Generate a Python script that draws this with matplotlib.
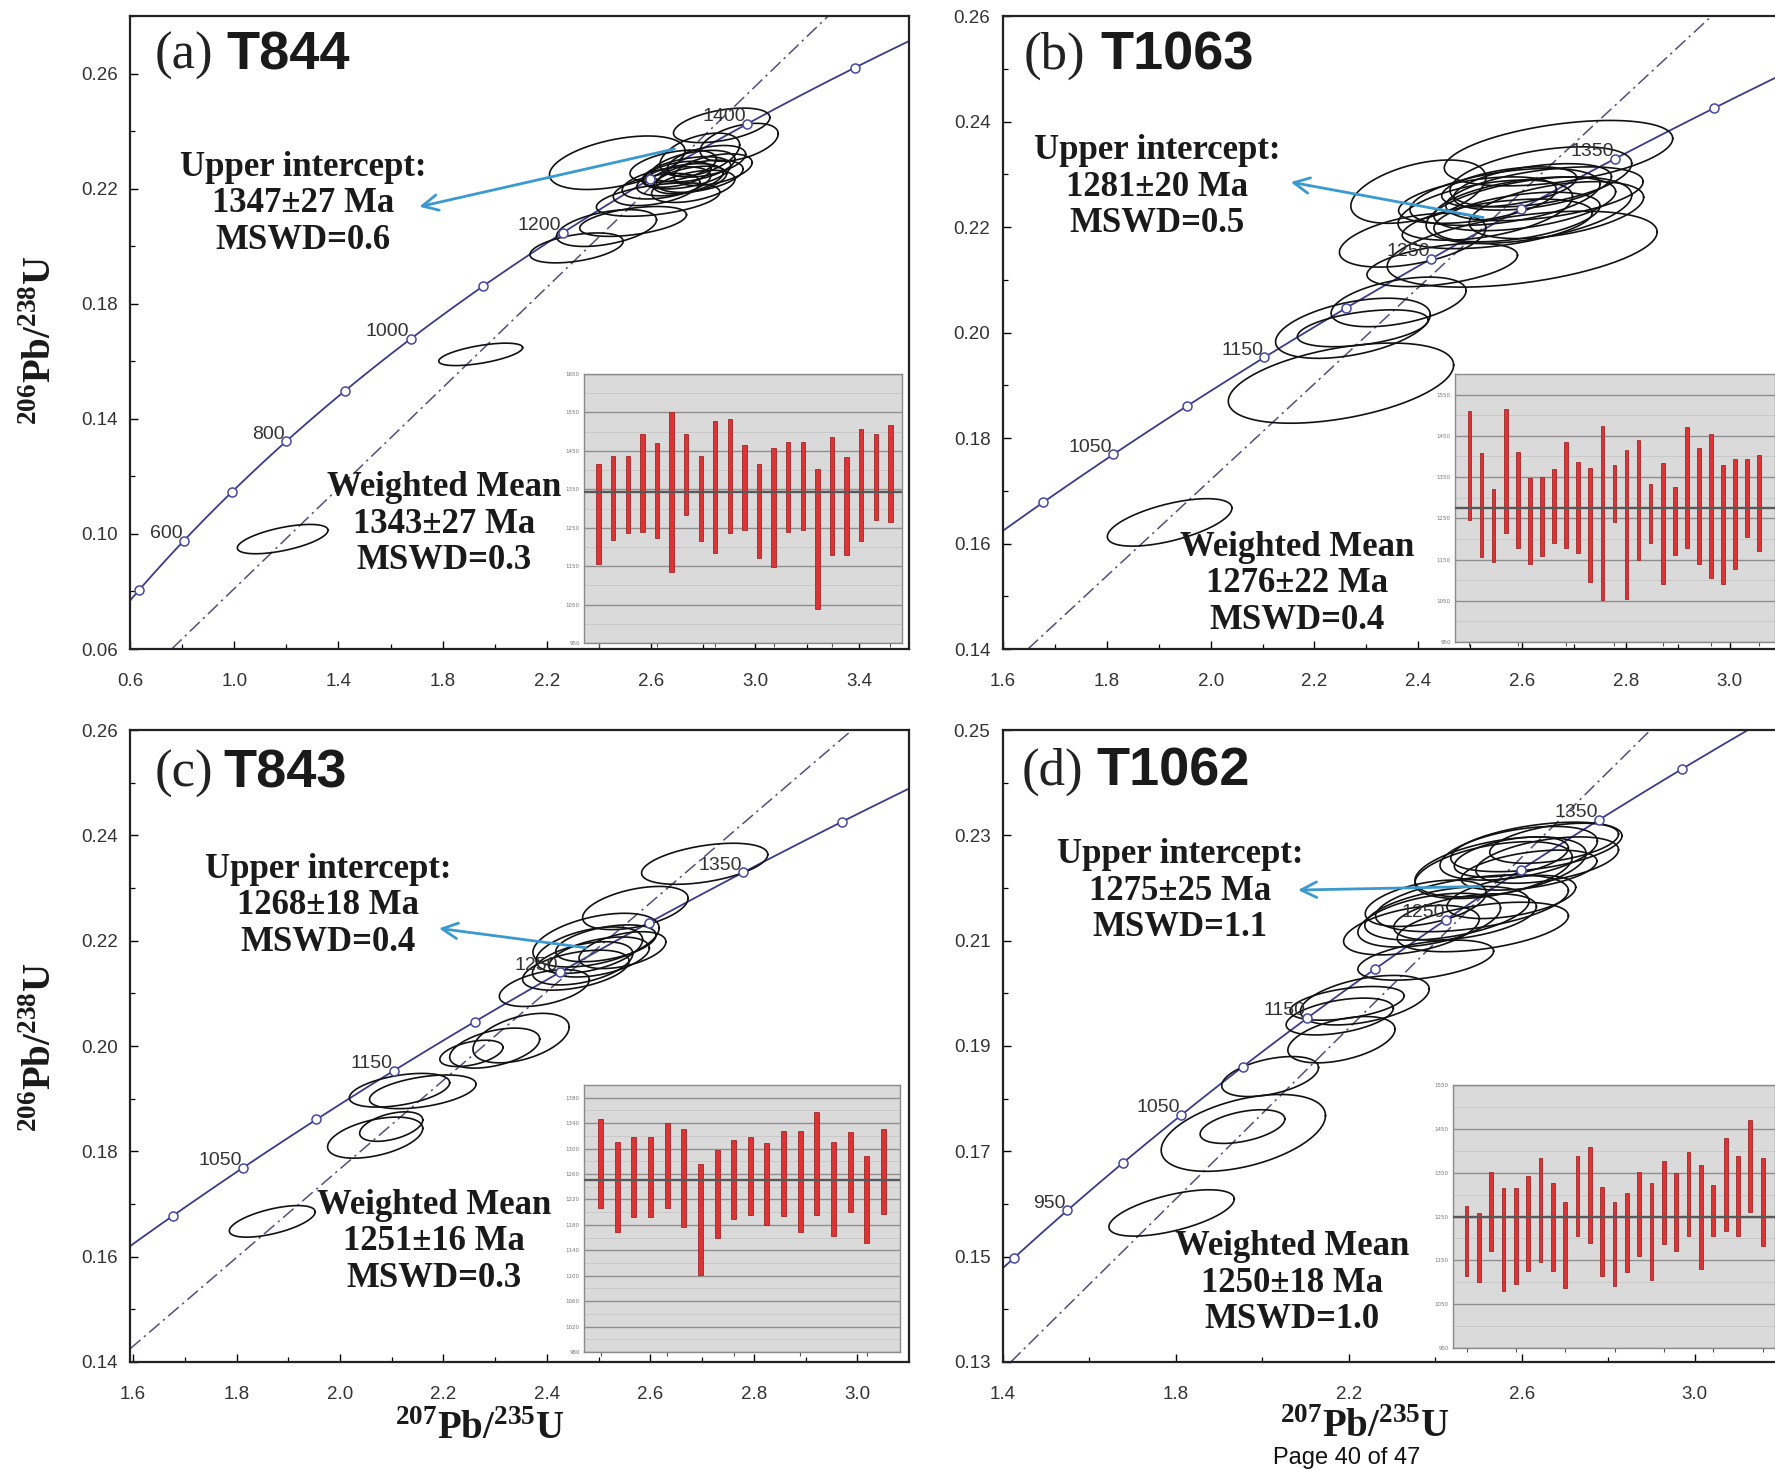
import numpy as np
import matplotlib.pyplot as plt
from matplotlib.ticker import FormatStrFormatter, FixedLocator

plt.rcParams['mathtext.fontset'] = 'custom'
plt.rcParams['mathtext.rm'] = 'Liberation Serif'
plt.rcParams['mathtext.bf'] = 'Liberation Serif:bold'

W, H = 1775, 1469
SERIF = 'Liberation Serif'
SANS = 'Liberation Sans'

# constantes de désintégration (par Ma)
L238 = 1.55125e-4
L235 = 9.8485e-4

# ---- panneau (a) T844 ----
marks_a = [500, 600, 700, 800, 900, 1000, 1100, 1200, 1300, 1400, 1500]
labels_a = [600, 800, 1000, 1200, 1400]
ell_x_a = [2.47, 2.871, 2.938, 2.787, 2.685, 2.736, 2.762, 2.787, 2.711, 2.813, 2.659, 2.762, 2.838, 2.621,
           2.627, 2.531, 2.429, 2.314, 2.70, 2.75, 1.946, 1.186]
ell_y_a = [0.229, 0.2420, 0.2361, 0.2318, 0.2278, 0.2255, 0.2278, 0.2243, 0.2231, 0.2295, 0.2220, 0.2208, 0.2266,
           0.2197, 0.2162, 0.2086, 0.2063, 0.1994, 0.2250, 0.2230, 0.1624, 0.0982]
ell_sx_a = [0.26, 0.185, 0.150, 0.153, 0.166, 0.17, 0.16, 0.166, 0.166, 0.15, 0.17, 0.16, 0.15, 0.166,
            0.237, 0.205, 0.192, 0.179, 0.13, 0.14, 0.161, 0.174]
ell_sy_a = [0.0093, 0.0060, 0.0066, 0.0075, 0.0056, 0.0056, 0.0055, 0.0056, 0.0056, 0.0055, 0.0056, 0.0056,
            0.0055, 0.0056, 0.0058, 0.0052, 0.0064, 0.0052, 0.0045, 0.0048, 0.0039, 0.0051]
wm_hi_a = [1416, 1436, 1436, 1494, 1471, 1550, 1494, 1436, 1528, 1532, 1466, 1416, 1457, 1473, 1473, 1403,
           1486, 1434, 1506, 1494, 1517]
wm_lo_a = [1156, 1218, 1236, 1240, 1222, 1136, 1282, 1215, 1185, 1236, 1244, 1171, 1148, 1238, 1244, 1038,
           1178, 1180, 1215, 1271, 1266]

# ---- panneau (b) T1063 ----
marks_b = [1000, 1050, 1100, 1150, 1200, 1250, 1300, 1350, 1400]
labels_b = [1050, 1150, 1250, 1350]
ell_x_b = [2.67, 2.60, 2.400, 2.389, 2.446, 2.362, 2.274, 2.293, 2.251, 2.567, 2.605, 2.529, 2.643, 2.590,
           2.620, 2.514, 2.666, 2.552, 2.636, 2.575, 2.613, 1.921]
ell_y_b = [0.234, 0.2158, 0.2267, 0.2175, 0.2128, 0.2058, 0.2008, 0.2008, 0.1904, 0.2257, 0.2244, 0.2232,
           0.2263, 0.2219, 0.2276, 0.2251, 0.2232, 0.2206, 0.2295, 0.2276, 0.2232, 0.1640]
ell_sx_b = [0.22, 0.26, 0.130, 0.141, 0.145, 0.130, 0.149, 0.126, 0.217, 0.183, 0.175, 0.168, 0.190, 0.160,
            0.152, 0.152, 0.168, 0.183, 0.175, 0.130, 0.198, 0.120]
ell_sy_b = [0.0062, 0.0072, 0.0060, 0.0051, 0.0041, 0.0047, 0.0057, 0.0035, 0.0076, 0.0054, 0.0051, 0.0057,
            0.0051, 0.0047, 0.0044, 0.0044, 0.0054, 0.0047, 0.0057, 0.0038, 0.0063, 0.0045]
wm_hi_b = [1510, 1409, 1321, 1516, 1410, 1348, 1349, 1370, 1435, 1386, 1372, 1475, 1380, 1415, 1439, 1333,
           1383, 1326, 1471, 1421, 1455, 1380, 1395, 1394, 1403]
wm_lo_b = [1246, 1157, 1144, 1215, 1177, 1140, 1158, 1191, 1177, 1166, 1096, 1051, 1242, 1055, 1148, 1191,
           1090, 1161, 1179, 1139, 1106, 1090, 1126, 1205, 1171]

# ---- panneau (c) T843 ----
marks_c = [1000, 1050, 1100, 1150, 1200, 1250, 1300, 1350, 1400]
labels_c = [1050, 1150, 1250, 1350]
ell_x_c = [2.705, 2.571, 2.482, 2.501, 2.469, 2.514, 2.456, 2.546, 2.495, 2.395, 2.350, 2.254, 2.299, 2.160,
           2.115, 2.099, 2.068, 1.869]
ell_y_c = [0.2346, 0.2262, 0.2182, 0.2169, 0.2157, 0.2195, 0.2144, 0.2182, 0.2201, 0.2110, 0.2015, 0.1986,
           0.1996, 0.1913, 0.1916, 0.1847, 0.1826, 0.1667]
ell_sx_c = [0.122, 0.102, 0.103, 0.097, 0.097, 0.097, 0.103, 0.084, 0.122, 0.087, 0.093, 0.061, 0.087, 0.103,
            0.097, 0.061, 0.092, 0.083]
ell_sy_c = [0.0039, 0.0041, 0.0044, 0.0038, 0.0041, 0.0035, 0.0038, 0.0035, 0.0051, 0.0035, 0.0047, 0.0025,
            0.0038, 0.0032, 0.0032, 0.0028, 0.0039, 0.0030]
wm_hi_c = [1347, 1310, 1318, 1318, 1340, 1331, 1275, 1297, 1314, 1318, 1309, 1327, 1327, 1357, 1311, 1326,
           1288, 1331]
wm_lo_c = [1207, 1168, 1193, 1193, 1206, 1176, 1101, 1159, 1189, 1196, 1179, 1194, 1168, 1196, 1162, 1200,
           1151, 1197]

# ---- panneau (d) T1062 ----
marks_d = [900, 950, 1000, 1050, 1100, 1150, 1200, 1250, 1300, 1350, 1400]
labels_d = [950, 1050, 1150, 1250, 1350]
ell_x_d = [2.634, 2.593, 2.659, 2.551, 2.617, 2.675, 2.576, 2.535, 2.485, 2.427, 2.386, 2.510, 2.576, 2.345,
           2.469, 2.378, 2.378, 2.237, 2.179, 2.196, 2.183, 2.018, 1.956, 1.954, 1.790]
ell_y_d = [0.2278, 0.2266, 0.2253, 0.2240, 0.2234, 0.2285, 0.2259, 0.2234, 0.2171, 0.2152, 0.2139, 0.2126,
           0.2183, 0.2120, 0.2145, 0.2171, 0.2063, 0.1987, 0.1956, 0.1981, 0.1912, 0.1842, 0.1735, 0.1747, 0.1583]
ell_sx_d = [0.198, 0.182, 0.165, 0.198, 0.157, 0.149, 0.132, 0.182, 0.223, 0.190, 0.165, 0.198, 0.149, 0.157,
            0.165, 0.140, 0.157, 0.149, 0.124, 0.132, 0.124, 0.112, 0.190, 0.098, 0.145]
ell_sy_d = [0.0047, 0.0051, 0.0044, 0.0057, 0.0038, 0.0038, 0.0038, 0.0054, 0.0054, 0.0051, 0.0051, 0.0047,
            0.0041, 0.0047, 0.0044, 0.0044, 0.0038, 0.0047, 0.0035, 0.0032, 0.0044, 0.0038, 0.0073, 0.0032, 0.0044]
wm_hi_d = [1273, 1258, 1352, 1314, 1314, 1342, 1383, 1327, 1284, 1388, 1408, 1317, 1284, 1303, 1352, 1326,
           1377, 1350, 1398, 1367, 1322, 1428, 1388, 1470, 1383]
wm_lo_d = [1114, 1100, 1171, 1080, 1095, 1125, 1146, 1125, 1087, 1205, 1189, 1115, 1091, 1123, 1159, 1106,
           1188, 1171, 1206, 1130, 1206, 1216, 1205, 1261, 1182]

upper_txt = ['Upper intercept:\n1347±27 Ma\nMSWD=0.6', 'Upper intercept:\n1281±20 Ma\nMSWD=0.5',
             'Upper intercept:\n1268±18 Ma\nMSWD=0.4', 'Upper intercept:\n1275±25 Ma\nMSWD=1.1']
wmean_txt = ['Weighted Mean\n1343±27 Ma\nMSWD=0.3', 'Weighted Mean\n1276±22 Ma\nMSWD=0.4',
             'Weighted Mean\n1251±16 Ma\nMSWD=0.3', 'Weighted Mean\n1250±18 Ma\nMSWD=1.0']
wm_mean = [1343, 1274, 1251, 1250]
letters = ['(a)', '(b)', '(c)', '(d)']
samples = ['T844', 'T1063', 'T843', 'T1062']

# droites discordia (deux points) et flèches (queue -> tête)
disc_a = [(0.76, 0.06), (3.28, 0.28)]
disc_b = [(1.648, 0.14), (2.965, 0.26)]
disc_c = [(1.60, 0.143), (2.99, 0.26)]
disc_d = [(1.418, 0.13), (2.898, 0.25)]
arrow_a = [(2.70, 0.234), (1.70, 0.2135)]
arrow_b = [(2.53, 0.2217), (2.149, 0.2286)]
arrow_c = [(2.48, 0.2186), (2.186, 0.2224)]
arrow_d = [(2.51, 0.2203), (2.076, 0.2196)]

fig = plt.figure(figsize=(W / 100, H / 100), dpi=100)


def px_axes(l, t, r, b):
    return fig.add_axes([l / W, 1 - b / H, (r - l) / W, (b - t) / H])


def ftext(x, y, s, **kw):
    fig.text(x / W, 1 - y / H, s, **kw)


def conc(t):
    t = np.asarray(t, dtype=float)
    return np.expm1(L235 * t), np.expm1(L238 * t)


def ellipse(ax, cx, cy, sx, sy, rho=0.45):
    t = np.linspace(0, 2 * np.pi, 150)
    x = cx + sx * np.cos(t)
    y = cy + sy * (rho * np.cos(t) + np.sqrt(1 - rho ** 2) * np.sin(t))
    ax.plot(x, y, color='#111111', lw=1.2, zorder=3)


def concordia_panel(rect, xlim, ylim, xticks, yticks, marks, labels, ex, ey, esx, esy,
                    disc, arrow, cut_right=False):
    ax = px_axes(*rect)
    ax.set_xlim(xlim)
    ax.set_ylim(ylim)
    tt = np.linspace(marks[0] - 300, marks[-1] + 300, 400)
    cx, cy = conc(tt)
    ax.plot(cx, cy, color='#3b3b8c', lw=1.3, zorder=2)
    mx, my = conc(marks)
    ax.plot(mx, my, 'o', ms=6.5, mfc='white', mec='#4848a0', mew=1.1, zorder=5)
    for lab in labels:
        lx, ly = conc(lab)
        ax.annotate(str(lab), (lx, ly), xytext=(-1, -1), textcoords='offset points', ha='right', va='bottom',
                    fontsize=14, family=SANS, color='#333333', zorder=6)
    ax.axline(disc[0], disc[1], color='#50507a', lw=1.1, ls=(0, (9, 3, 1.5, 3)), zorder=2)
    for i in range(len(ex)):
        rho = 0.6 if ey[i] < 0.17 else 0.45
        ellipse(ax, ex[i], ey[i], esx[i], esy[i], rho)
    ax.annotate('', xy=arrow[1], xytext=arrow[0],
                arrowprops=dict(arrowstyle='->', color='#3a9ad0', lw=2.0, mutation_scale=28), zorder=7)
    ax.xaxis.set_major_locator(FixedLocator(np.arange(*xticks[0])))
    ax.xaxis.set_minor_locator(FixedLocator(np.arange(*xticks[1])))
    ax.yaxis.set_major_locator(FixedLocator(np.arange(*yticks[0])))
    ax.yaxis.set_minor_locator(FixedLocator(np.arange(*yticks[1])))
    ax.xaxis.set_major_formatter(FormatStrFormatter('%.1f'))
    ax.yaxis.set_major_formatter(FormatStrFormatter('%.2f'))
    ax.tick_params(which='major', direction='in', length=6, width=1, labelsize=13.5, labelcolor='#333333')
    ax.tick_params(axis='x', which='major', pad=17)
    ax.tick_params(axis='y', which='major', pad=9)
    ax.tick_params(which='minor', direction='in', length=3.5, width=0.9)
    for lab in ax.get_xticklabels() + ax.get_yticklabels():
        lab.set_family(SANS)
    for s in ax.spines.values():
        s.set_linewidth(1.6)
        s.set_color('#222222')
    if cut_right:
        ax.spines['right'].set_visible(False)
    return ax


def weighted_inset(rect, lows, highs, mean, ylim, ystep, xlim):
    ia = px_axes(*rect)
    ia.set_facecolor('#dadada')
    idx = np.arange(1, len(lows) + 1)
    lo = np.array(lows)
    hi = np.array(highs)
    ia.bar(idx, hi - lo, bottom=lo, width=0.3, color='#dc3434', edgecolor='#a52626', lw=0.6, zorder=3)
    ia.axhline(mean, color='#585858', lw=1.7, zorder=4)
    ia.set_xlim(xlim)
    ia.set_ylim(ylim)
    ia.yaxis.set_major_locator(FixedLocator(np.arange(ylim[0], ylim[1] + 1, ystep)))
    ia.yaxis.set_minor_locator(FixedLocator(np.arange(ylim[0], ylim[1] + 1, ystep / 2)))
    ia.xaxis.set_major_locator(FixedLocator(np.arange(1, len(lows) + 1, 4)))
    ia.grid(axis='y', which='major', color='#8e8e8e', lw=1.0, zorder=1)
    ia.grid(axis='y', which='minor', color='#c6c6c6', lw=0.6, zorder=1)
    ia.set_axisbelow(True)
    ia.tick_params(axis='y', which='both', length=0, labelsize=4, labelcolor='#777777', pad=3)
    ia.tick_params(axis='x', length=3, labelbottom=False, color='#555555')
    for s in ia.spines.values():
        s.set_color('#8a8a8a')
        s.set_linewidth(1.0)
    return ia


# graduations : ((début, fin, pas) majeures, (début, fin, pas) mineures)
xt_a = ((0.6, 3.41, 0.4), (0.6, 3.59, 0.2))
yt_a = ((0.06, 0.261, 0.04), (0.06, 0.281, 0.02))
xt_b = ((1.6, 3.01, 0.2), (1.6, 3.09, 0.1))
yt_b = ((0.14, 0.261, 0.02), (0.14, 0.261, 0.01))
xt_d = ((1.4, 3.01, 0.4), (1.4, 3.19, 0.2))
yt_d = ((0.13, 0.251, 0.02), (0.13, 0.251, 0.01))

ax_a = concordia_panel((130, 16, 909, 649), (0.6, 3.59), (0.06, 0.28), xt_a, yt_a,
                       marks_a, labels_a, ell_x_a, ell_y_a, ell_sx_a, ell_sy_a, disc_a, arrow_a)
ax_b = concordia_panel((1003, 16, 1775, 649), (1.6, 3.087), (0.14, 0.26), xt_b, yt_b,
                       marks_b, labels_b, ell_x_b, ell_y_b, ell_sx_b, ell_sy_b, disc_b, arrow_b, cut_right=True)
ax_c = concordia_panel((130, 730, 909, 1362), (1.594, 3.1), (0.14, 0.26), xt_b, yt_b,
                       marks_c, labels_c, ell_x_c, ell_y_c, ell_sx_c, ell_sy_c, disc_c, arrow_c)
ax_d = concordia_panel((1003, 730, 1775, 1362), (1.4, 3.186), (0.13, 0.25), xt_d, yt_d,
                       marks_d, labels_d, ell_x_d, ell_y_d, ell_sx_d, ell_sy_d, disc_d, arrow_d, cut_right=True)

weighted_inset((584, 374, 902, 643), wm_lo_a, wm_hi_a, wm_mean[0], (950, 1650), 100, (0, 21.8))
weighted_inset((1455, 374, 1775, 642), wm_lo_b, wm_hi_b, wm_mean[1], (950, 1600), 100, (-0.2, 26.3))
weighted_inset((584, 1085, 900, 1352), wm_lo_c, wm_hi_c, wm_mean[2], (980, 1400), 40, (0, 19))
weighted_inset((1453, 1085, 1775, 1348), wm_lo_d, wm_hi_d, wm_mean[3], (950, 1550), 100, (-0.1, 26))

# titres des panneaux
title_pos = [(155, 226, 56), (1024, 1100, 56), (155, 223, 774), (1022, 1096, 772)]
for (xl, xs, y), let, smp in zip(title_pos, letters, samples):
    ftext(xl, y, let, fontsize=38, family=SERIF, va='center', ha='left', color='#222222')
    ftext(xs, y, smp, fontsize=39, family=SANS, weight='bold', va='center', ha='left', color='#1a1a1a')

ui_pos = [(303, 204), (1157, 187), (328, 906), (1180, 891)]
wm_pos = [(444, 524), (1297, 584), (434, 1242), (1292, 1283)]
for (x, y), s in zip(ui_pos, upper_txt):
    ftext(x, y, s, fontsize=25, family=SERIF, weight='bold', ha='center', va='center',
          multialignment='center', linespacing=1.15, color='#1a1a1a')
for (x, y), s in zip(wm_pos, wmean_txt):
    ftext(x, y, s, fontsize=25, family=SERIF, weight='bold', ha='center', va='center',
          multialignment='center', linespacing=1.15, color='#1a1a1a')

ylab = r'$^{\mathbf{206}}\mathbf{Pb/}^{\mathbf{238}}\mathbf{U}$'
xlab = r'$^{\mathbf{207}}\mathbf{Pb/}^{\mathbf{235}}\mathbf{U}$'
ftext(40, 340, ylab, fontsize=28, rotation=90, ha='center', va='center', color='#1a1a1a')
ftext(40, 1047, ylab, fontsize=28, rotation=90, ha='center', va='center', color='#1a1a1a')
ftext(480, 1428, xlab, fontsize=28, ha='center', va='center', color='#1a1a1a')
ftext(1365, 1426, xlab, fontsize=28, ha='center', va='center', color='#1a1a1a')

ftext(1347, 1458, 'Page 40 of 47', fontsize=17, family=SANS, ha='center', va='center', color='#111111')

fig.savefig('out.png', dpi=100)
